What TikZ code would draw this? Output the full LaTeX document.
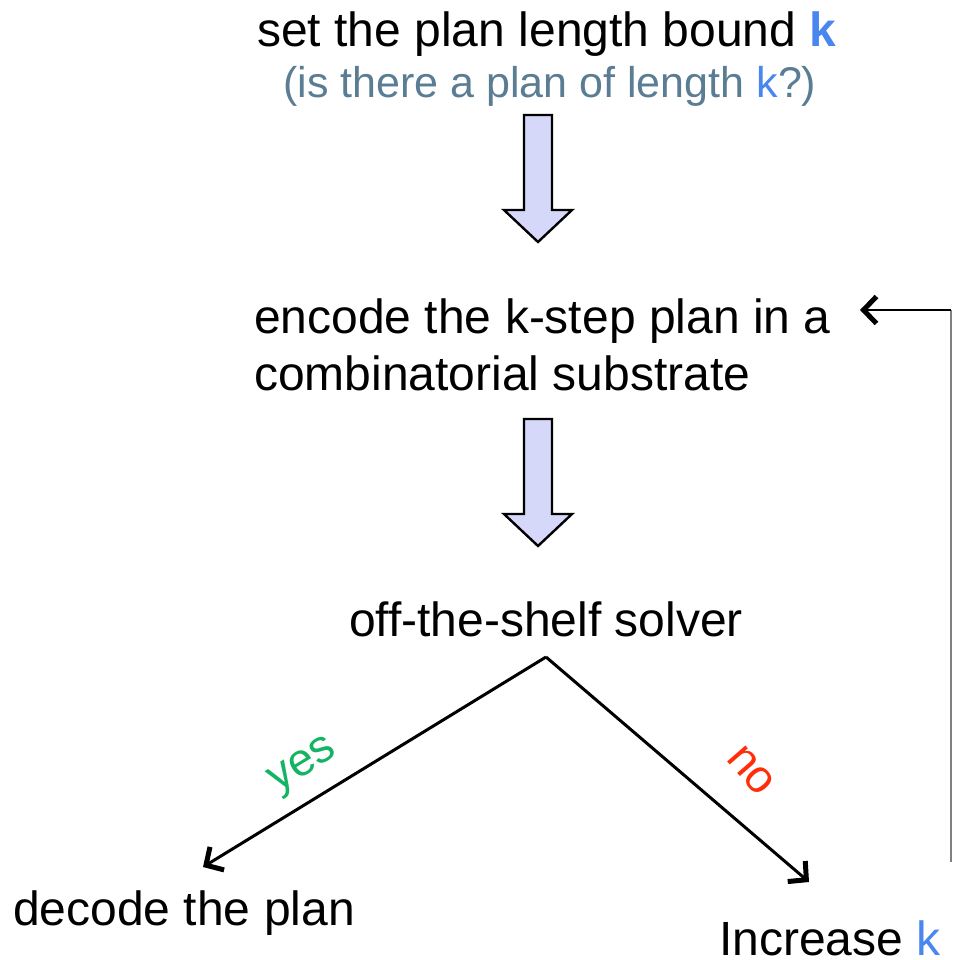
\documentclass[tikz,border=0pt]{standalone}
\usepackage{fontspec}
\setmainfont{Liberation Sans}
\usetikzlibrary{arrows.meta}
\definecolor{kblue}{RGB}{74,134,240}
\definecolor{subgray}{RGB}{90,125,148}
\definecolor{yesgreen}{RGB}{20,180,100}
\definecolor{nored}{RGB}{255,45,10}
\definecolor{blockfill}{RGB}{214,216,250}
\tikzset{
  big/.style={font=\fontsize{48}{56}\selectfont, inner sep=0pt},
  small/.style={font=\fontsize{43}{50}\selectfont, inner sep=0pt, text=subgray},
  blockarrow/.style={draw=black, line width=2.4pt, fill=blockfill, line join=miter},
  flow/.style={draw=black, line width=3pt, -{Straight Barb[length=13pt,width=27pt,line width=5pt]}},
  lbl/.style={font=\fontsize{46}{52}\selectfont, inner sep=0pt}
}
\begin{document}
\begin{tikzpicture}[x=1pt,y=-1pt]
\useasboundingbox (0,0) rectangle (953,960);

% headings and steps
\node[big, anchor=base west] (bound) at (257,47) {set the plan length bound \textbf{\textcolor{kblue}{k}}};
\node[small, anchor=base west] (question) at (283,98) {(is there a plan of length \textcolor{kblue}{k}?)};
\node[big, anchor=base west] (enc1) at (254,333) {encode the k-step plan in a};
\node[big, anchor=base west] (enc2) at (254,390) {combinatorial substrate};
\node[big, anchor=base] (solver) at (546,636) {off-the-shelf solver};
\node[big, anchor=base west] (decode) at (13,925) {decode the plan};
\node[big, anchor=base west] (increase) at (719,955) {Increase \textcolor{kblue}{k}};

% block arrows between the steps
\draw[blockarrow] (524,115) -- (552,115) -- (552,210) -- (572,210) -- (538,242)
  -- (504,210) -- (524,210) -- cycle;
\draw[blockarrow] (524,419) -- (552,419) -- (552,514) -- (572,514) -- (538,546)
  -- (504,514) -- (524,514) -- cycle;

% branches out of the solver
\coordinate (apex) at (546,657);
\coordinate (yestip) at (203,867);
\coordinate (notip) at (809,882);
\draw[flow] (apex) -- (yestip);
\draw[flow] (apex) -- (notip);
\node[lbl, text=yesgreen, rotate=31.4] (yes) at (304,767) {yes};
\node[lbl, text=nored, rotate=-49] (no) at (751,771) {no};

% feedback loop back to the encoding step
\coordinate (loopbot) at (951,862);
\coordinate (looptop) at (951,310);
\coordinate (enctip) at (860,310);
\draw[gray, line width=1.5pt] (loopbot) -- (looptop);
\draw[flow, line width=2.4pt] (looptop) -- (enctip);
\end{tikzpicture}
\end{document}
